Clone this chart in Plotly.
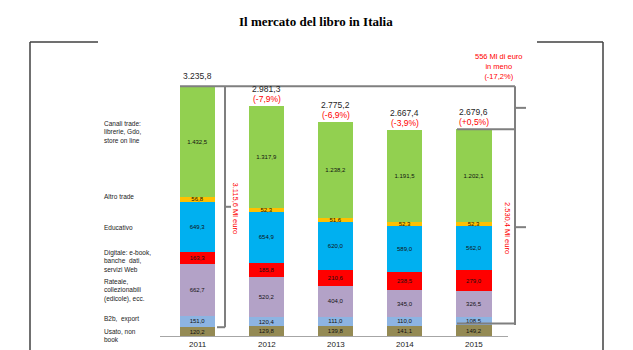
import plotly.graph_objects as go

years = ["2011", "2012", "2013", "2014", "2015"]
usato = [120.2, 129.8, 139.8, 141.1, 149.2]
b2b = [151.0, 120.4, 111.0, 110.0, 108.5]
rateale = [662.7, 520.2, 404.0, 345.0, 326.5]
digitale = [163.3, 185.8, 210.6, 238.5, 279.0]
educativo = [649.3, 654.9, 620.0, 589.0, 562.0]
altro_trade = [56.8, 52.3, 51.6, 52.3, 52.3]
canali_trade = [1432.5, 1317.9, 1238.2, 1191.5, 1202.1]
totals = [3235.8, 2981.3, 2775.2, 2667.4, 2679.6]
pct_labels = ["", "(-7,9%)", "(-6,9%)", "(-3,9%)", "(+0,5%)"]

series = [
    ("Usato, non<br>book", usato, "#948A54", 335),
    ("B2b,  export", b2b, "#8DB4E2", 319),
    ("Rateale,<br>collezionabili<br>(edicole), ecc.", rateale, "#B3A2C7", 290),
    ("Digitale: e-book,<br>banche  dati,<br>servizi Web", digitale, "#FF0000", 261),
    ("Educativo", educativo, "#00B0F0", 227),
    ("Altro trade", altro_trade, "#FFC000", 196),
    ("Canali trade:<br>librerie, Gdo,<br>store on line", canali_trade, "#92D050", 132),
]

W, H = 633, 350
FONT = "Liberation Sans"


def fmt(v):
    s = f"{v:,.1f}"
    return s.replace(",", "X").replace(".", ",").replace("X", ".")


def px(x):
    return x / W


def py(y):
    return 1 - y / H


xs = list(range(len(years)))
c0, step = 197.5, 69.1
base_px, scale = 336.5, 0.0773

fig = go.Figure()
for name, vals, color, _ in series:
    fig.add_trace(go.Bar(
        x=xs, y=vals, name=name.replace("<br>", " "),
        marker=dict(color=color, line=dict(width=0)),
        width=0.51,
        text=[fmt(v) for v in vals],
        textposition="inside", insidetextanchor="middle", textangle=0,
        textfont=dict(size=6, color="#111111", family=FONT),
        hoverinfo="skip",
    ))

ann = []
# Title
ann.append(dict(x=px(316), y=py(21), xref="paper", yref="paper", text="<b>Il mercato del libro in Italia</b>",
                showarrow=False, font=dict(family="Liberation Serif", size=13, color="#000"),
                xanchor="center", yanchor="middle"))
# category labels
for name, vals, color, ycen in series:
    ann.append(dict(x=px(102), y=py(ycen), xref="paper", yref="paper", text=name, showarrow=False,
                    align="left", xanchor="left", yanchor="middle",
                    font=dict(family=FONT, size=6.5, color="#1a1a1a")))
# totals and pct
for i, (t, p) in enumerate(zip(totals, pct_labels)):
    if p:
        ann.append(dict(x=i, y=t, xref="x", yref="y", text=p, showarrow=False, yanchor="bottom",
                        xanchor="center", yshift=0, font=dict(family=FONT, size=8.5, color="#FF0000")))
        shift = 10
    else:
        shift = 3
    ann.append(dict(x=i, y=t, xref="x", yref="y", text=fmt(t), showarrow=False, yanchor="bottom",
                    xanchor="center", yshift=shift, font=dict(family=FONT, size=8.5, color="#1f1f1f")))
# years
for i, yname in enumerate(years):
    ann.append(dict(x=i, y=py(338.5), xref="x", yref="paper", text=yname, showarrow=False,
                    xanchor="center", yanchor="top", borderpad=0,
                    font=dict(family=FONT, size=8, color="#1a1a1a")))
# red notes
ann.append(dict(x=px(499), y=py(67), xref="paper", yref="paper",
                text="556 Ml di euro<br>in meno<br>(-17,2%)", showarrow=False,
                xanchor="center", yanchor="middle",
                font=dict(family=FONT, size=7.5, color="#FF0000"), align="center"))
ann.append(dict(x=px(235.5), y=py(208), xref="paper", yref="paper", text="3.115,6 Ml euro",
                xanchor="center", yanchor="middle",
                showarrow=False, textangle=90, font=dict(family=FONT, size=7.5, color="#FF0000")))
ann.append(dict(x=px(508), y=py(228), xref="paper", yref="paper", text="2.530,4 Ml euro",
                xanchor="center", yanchor="middle",
                showarrow=False, textangle=90, font=dict(family=FONT, size=7.5, color="#FF0000")))

shapes = []
frame = dict(color="#404040", width=1.5)
for (x0, y0, x1, y1) in [(30, 42, 30, 352), (30, 42, 98, 42), (537, 42, 603, 42), (603, 42, 603, 352)]:
    shapes.append(dict(type="line", xref="paper", yref="paper", x0=px(x0), y0=py(y0), x1=px(x1), y1=py(y1), line=frame))

br = dict(color="#7f7f7f", width=2)


def hl(x0, x1, yv):
    shapes.append(dict(type="line", xref="paper", yref="y", x0=px(x0), x1=px(x1), y0=yv, y1=yv, line=br))


def vl(xp, y0, y1):
    shapes.append(dict(type="line", xref="paper", yref="y", x0=px(xp), x1=px(xp), y0=y0, y1=y1, line=br))


hl(180, 515, totals[0])
vl(225, totals[0], usato[0])
hl(217, 225, usato[0])
hl(225, 231, (totals[0] + usato[0]) / 2)
vl(515, totals[0], usato[4])
hl(515, 526, (totals[0] + totals[4]) / 2)
hl(457, 515, totals[4])
hl(457, 515, usato[4] + 20)
hl(515, 526, (totals[4] + usato[4]) / 2)
# x axis baseline
shapes.append(dict(type="line", xref="paper", yref="y", x0=px(160), x1=px(508), y0=0, y1=0,
                   line=dict(color="#a6a6a6", width=1)))

fig.update_layout(
    width=W, height=H, margin=dict(l=0, r=0, t=0, b=0),
    barmode="stack", showlegend=False,
    paper_bgcolor="white", plot_bgcolor="white",
    xaxis=dict(range=[-c0 / step, (W - c0) / step], visible=False, fixedrange=True),
    yaxis=dict(range=[-(H - base_px) / scale, base_px / scale], visible=False, fixedrange=True),
    annotations=ann, shapes=shapes,
    uniformtext=dict(minsize=6, mode="show"),
)

fig.write_html("out.html")
